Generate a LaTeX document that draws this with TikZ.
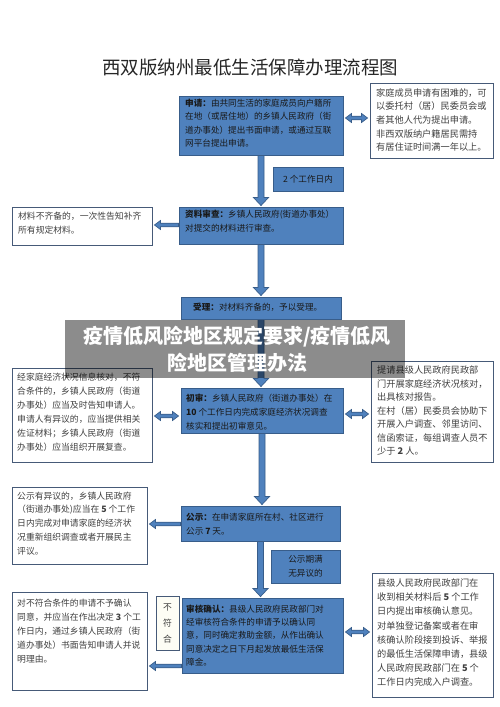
\documentclass[tikz,border=0pt]{standalone}
\usepackage{fontspec}
\newfontfamily\cjk{Noto Sans CJK SC}
\usetikzlibrary{calc,fit}
\definecolor{boxblue}{RGB}{79,129,189}
\definecolor{bdr}{RGB}{56,93,138}
\definecolor{wbdr}{RGB}{70,90,120}
\definecolor{txtdark}{RGB}{25,25,25}
\definecolor{txtgray}{RGB}{64,64,64}
\tikzset{
 bb/.style={draw=bdr, fill=boxblue, line width=0.9pt, inner sep=0pt},
 wb/.style={draw=wbdr, fill=white, line width=0.9pt, inner sep=0pt},
 bt/.style={anchor=north west, inner sep=0pt, align=left, text=txtdark, font=\cjk\fontsize{8.6}{13.6}\selectfont},
 wt/.style={anchor=north west, inner sep=0pt, align=left, text=txtgray, font=\cjk\fontsize{8.8}{14}\selectfont},
 rt/.style={anchor=north west, inner sep=0pt, align=left, text=txtgray, font=\cjk\fontsize{9.2}{13.8}\selectfont},
 ct/.style={inner sep=0pt, align=center, text=txtdark, font=\cjk\fontsize{8.6}{13.6}\selectfont},
 arr/.style={draw=bdr, fill=boxblue, line width=0.7pt, line join=miter},
}
\newcommand\mkDownArr[2]{\path[arr] let \p1=(#1.south), \p2=(#2.north) in
 (\x1-3pt,\y1) -- (\x1-3pt,\y2+9pt) -- (\x1-7.5pt,\y2+9pt) -- (\x1,\y2+1pt) -- (\x1+7.5pt,\y2+9pt) -- (\x1+3pt,\y2+9pt) -- (\x1+3pt,\y1) -- cycle;}
\newcommand\mkDblArr[3]{\path[arr] let \p1=(#1.east), \p2=(#2.west), \p3=(0,#3) in
 (\x1+2pt,\y3) -- (\x1+8pt,\y3+4.5pt) -- (\x1+8pt,\y3+1.8pt) -- (\x2-8pt,\y3+1.8pt) -- (\x2-8pt,\y3+4.5pt) -- (\x2-2pt,\y3) -- (\x2-8pt,\y3-4.5pt) -- (\x2-8pt,\y3-1.8pt) -- (\x1+8pt,\y3-1.8pt) -- (\x1+8pt,\y3-4.5pt) -- cycle;}
\newcommand\mkLeftArr[3]{\path[arr] let \p1=(#1.east), \p2=(#2.west), \p3=(0,#3) in
 (\x1+2pt,\y3) -- (\x1+8pt,\y3+4.5pt) -- (\x1+8pt,\y3+1.8pt) -- (\x2,\y3+1.8pt) -- (\x2,\y3-1.8pt) -- (\x1+8pt,\y3-1.8pt) -- (\x1+8pt,\y3-4.5pt) -- cycle;}
\begin{document}
\begin{tikzpicture}[x=1pt,y=-1pt]
\fill[white] (0,0) rectangle (500,707);
\useasboundingbox (0,0) rectangle (500,707);

\node[font=\cjk\fontsize{18.5}{20}\selectfont, text=black!85] (title) at (250,67) {西双版纳州最低生活保障办理流程图};

% boxes
\node[bb, fit={(179,96) (343,155)}] (b1) {};
\node[wb, fit={(370,83) (493,158)}] (r1) {};
\node[bb, fit={(273,167) (343,191)}] (t2) {};
\node[bb, fit={(179,207) (343,244)}] (b2) {};
\node[wb, fit={(12,207) (152,245)}] (l1) {};
\node[bb, fit={(181,297) (341,319)}] (b3) {};
\node[wb, fit={(12,368) (152,462)}] (l2) {};
\node[bb, fit={(181,388) (343,433)}] (b4) {};
\node[wb, fit={(371,361) (493,462)}] (r2) {};
\node[wb, fit={(12,487) (147,564)}] (l3) {};
\node[bb, fit={(181,506) (340,541)}] (b5) {};
\node[bb, fit={(271,550) (340,583)}] (t3) {};
\node[bb, fit={(182,598) (343,673)}] (b6) {};
\node[wb, fit={(12,592) (147,690)}] (l4) {};
\node[wb, fill={rgb,255:red,253;green,253;blue,245}, fit={(156,596) (179,650)}] (t4) {};
\node[wb, fit={(372,573) (493,697)}] (r3) {};

% texts
\node[bt, font=\cjk\fontsize{8.6}{13.5}\selectfont] (b1t) at (185,98.7) {{\bfseries 申请：}由共同生活的家庭成员向户籍所\\在地（或居住地）的乡镇人民政府（街\\道办事处）提出书面申请，或通过互联\\网平台提出申请。};
\node[rt, font=\cjk\fontsize{9.2}{13.7}\selectfont] (r1t) at (376,88) {家庭成员申请有困难的，可\\以委托村（居）民委员会或\\者其他人代为提出申请。\\非西双版纳户籍居民需持\\有居住证时间满一年以上。};
\node[ct] (t2t) at (t2) {2 个工作日内};
\node[bt] (b2t) at (185,210) {{\bfseries 资料审查：}乡镇人民政府(街道办事处）\\对提交的材料进行审查。};
\node[wt] (l1t) at (18,211.5) {材料不齐备的，一次性告知补齐\\所有规定材料。};
\node[bt] (b3t) at (193,303) {{\bfseries 受理：}对材料齐备的，予以受理。};
\node[wt] (l2t) at (17,372.5) {经家庭经济状况信息核对，不符\\合条件的，乡镇人民政府（街道\\办事处）应当及时告知申请人。\\申请人有异议的，应当提供相关\\佐证材料；乡镇人民政府（街道\\办事处）应当组织开展复查。};
\node[bt, font=\cjk\fontsize{8.6}{14}\selectfont] (b4t) at (186,393.5) {{\bfseries 初审：}乡镇人民政府（街道办事处）在\\{\bfseries 10} 个工作日内完成家庭经济状况调查\\核实和提出初审意见。};
\node[rt, font=\cjk\fontsize{9.2}{13.5}\selectfont] (r2t) at (377,365.5) {提请县级人民政府民政部\\门开展家庭经济状况核对，\\出具核对报告。\\在村（居）民委员会协助下\\开展入户调查、邻里访问、\\信函索证，每组调查人员不\\少于 {\bfseries 2} 人。};
\node[wt, font=\cjk\fontsize{8.8}{13.8}\selectfont] (l3t) at (17,491.5) {公示有异议的，乡镇人民政府\\（街道办事处)应当在 {\bfseries 5} 个工作\\日内完成对申请家庭的经济状\\况重新组织调查或者开展民主\\评议。};
\node[bt, font=\cjk\fontsize{8.6}{14}\selectfont] (b5t) at (186,512.5) {{\bfseries 公示：}在申请家庭所在村、社区进行\\公示 {\bfseries 7} 天。};
\node[ct] (t3t) at (t3) {公示期满\\无异议的};
\node[bt, font=\cjk\fontsize{8.6}{13.4}\selectfont] (b6t) at (186,604.5) {{\bfseries 审核确认：}县级人民政府民政部门对\\经审核符合条件的申请予以确认同\\意，同时确定救助金额，从作出确认\\同意决定之日下月起发放最低生活保\\障金。};
\node[wt] (l4t) at (17,598.5) {对不符合条件的申请不予确认\\同意，并应当在作出决定 {\bfseries 3} 个工\\作日内，通过乡镇人民政府（街\\道办事处）书面告知申请人并说\\明理由。};
\node[ct, font=\cjk\fontsize{8.8}{16}\selectfont, text=txtgray] (t4t) at (t4) {不\\符\\合};
\node[rt, font=\cjk\fontsize{9.2}{14.2}\selectfont] (r3t) at (377,578.5) {县级人民政府民政部门在\\收到相关材料后 {\bfseries 5} 个工作\\日内提出审核确认意见。\\对单独登记备案或者在审\\核确认阶段接到投诉、举报\\的最低生活保障申请，县级\\人民政府民政部门在 {\bfseries 5} 个\\工作日内完成入户调查。};

% connectors
\mkDownArr{b1}{b2}
\mkDownArr{b2}{b3}
\mkDownArr{b3}{b4}
\mkDownArr{b4}{b5}
\mkDownArr{b5}{b6}
\mkDblArr{b1}{r1}{118}
\mkLeftArr{l1}{b2}{225}
\mkDblArr{l2}{b4}{416}
\mkDblArr{b4}{r2}{414}
\mkLeftArr{l3}{b5}{524}
\mkDblArr{b6}{r3}{632}
\mkLeftArr{l4}{b6}{666}

% overlay banner
\node[fit={(65,320) (405,378)}, inner sep=0pt, fill=black, fill opacity=0.45] (ban) {};
\node[font=\cjk\fontsize{20}{27}\selectfont\bfseries, text=white, align=center, inner sep=0pt] (bant) at (237,349) {疫情低风险地区规定要求/疫情低风\\险地区管理办法};
\end{tikzpicture}
\end{document}
